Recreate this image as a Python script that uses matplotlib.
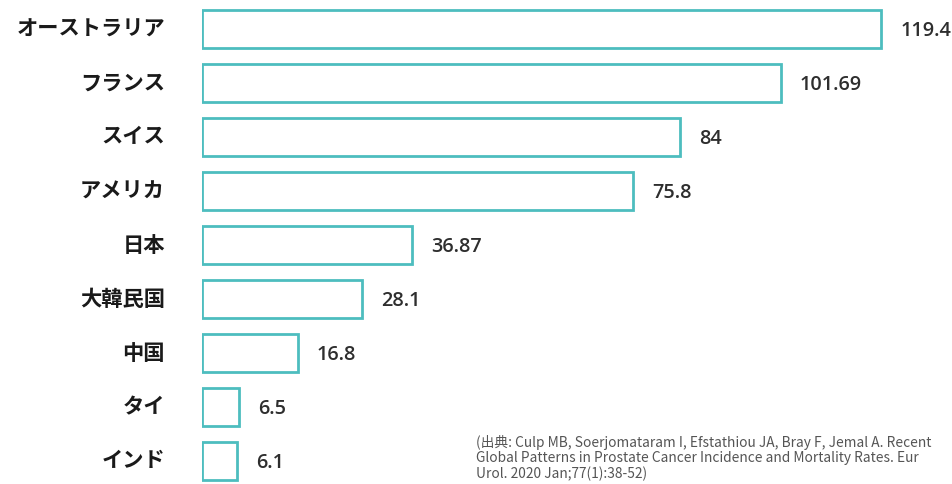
import matplotlib
matplotlib.use("Agg")
import matplotlib.pyplot as plt

countries = ["オーストラリア", "フランス", "スイス", "アメリカ", "日本", "大韓民国", "中国", "タイ", "インド"]
values = [119.4, 101.69, 84, 75.8, 36.87, 28.1, 16.8, 6.5, 6.1]
value_labels = ["119.4", "101.69", "84", "75.8", "36.87", "28.1", "16.8", "6.5", "6.1"]
source_text = ("(出典: Culp MB, Soerjomataram I, Efstathiou JA, Bray F, Jemal A. Recent\n"
               "Global Patterns in Prostate Cancer Incidence and Mortality Rates. Eur\n"
               "Urol. 2020 Jan;77(1):38-52)")

plt.rcParams['font.family'] = ['Noto Sans CJK JP', 'DejaVu Sans']

W, H = 953, 484
fig = plt.figure(figsize=(W / 100, H / 100), dpi=100)
fig.patch.set_facecolor('white')
ax = fig.add_axes([202 / W, 0, (W - 202) / W, 1])
scale = 5.69  # px per unit
ax.set_xlim(0, (W - 202) / scale)
ax.set_ylim((H - 29) / 54, -29 / 54)
ax.axis('off')

ypos = list(range(len(countries)))
ax.barh(ypos, values, height=0.70, left=0, facecolor='white',
        edgecolor='#4dbdbf', linewidth=2.0)

for y, v, lab, c in zip(ypos, values, value_labels, countries):
    ax.text(v + 19 / scale, y + 0.03, lab, va='center', ha='left',
            fontsize=14.3, fontweight='semibold', color='#2e2e2e',
            family=['Open Sans', 'DejaVu Sans'])
    fig.text(165 / W, 1 - (29 + 54 * y) / H, c, ha='right', va='center',
             fontsize=15.3, fontweight='bold', color='#1a1a1a')

fig.text(476 / W, 1 - 481 / H, source_text, ha='left', va='bottom',
         fontsize=9.9, color='#555555', linespacing=1.12)

fig.savefig('out.png', dpi=100, facecolor='white')
